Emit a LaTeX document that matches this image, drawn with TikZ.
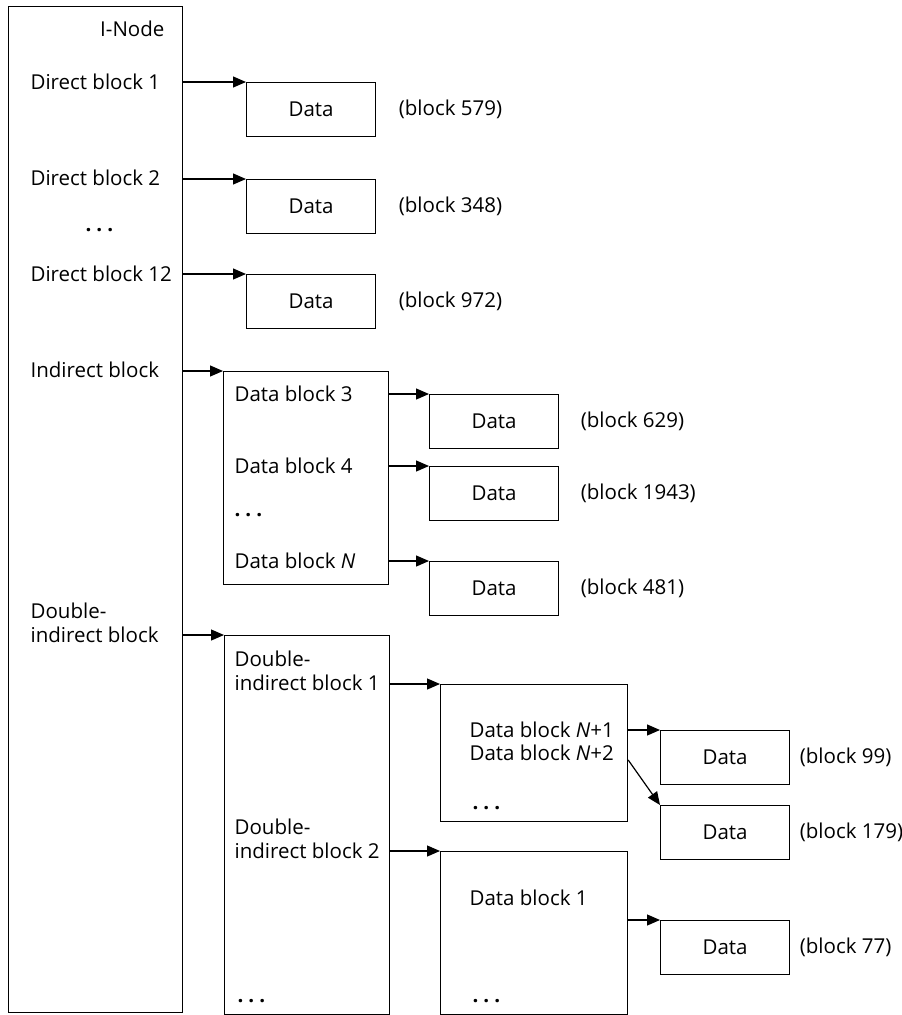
\documentclass[tikz,border=0pt]{standalone}
\usepackage{fontspec}
\setmainfont{Open Sans}
\usetikzlibrary{arrows.meta,positioning}

\newcommand\threedots{\textbf{.\hspace{5pt}.\hspace{5pt}.}}

\begin{document}
\begin{tikzpicture}[x=1pt,y=-1pt,
  font=\fontsize{20.5}{24}\selectfont,
  line width=1.2pt,
  >={Triangle[length=13pt,width=11pt]},
  box/.style={draw,inner sep=0pt,anchor=north west},
  databox/.style={draw,inner sep=0pt,anchor=north west,minimum width=129pt,minimum height=54pt},
  txt/.style={anchor=base west,inner sep=0pt,align=left},
  lbl/.style={inner sep=0pt}]
  \useasboundingbox (0,0) rectangle (902,1015);

  % i-node
  \node[box,minimum width=174pt,minimum height=1006pt] (inode) at (8,6) {};
  \node[txt,anchor=base east] (title) at (165,36) {I-Node};
  \node[txt] (d1) at (30,89) {Direct block 1};
  \node[txt] (d2) at (30,185) {Direct block 2};
  \node[txt] (dots1) at (85,231) {\threedots};
  \node[txt] (d12) at (30,281) {Direct block 12};
  \node[txt] (ind) at (30,377) {Indirect block};
  \node[txt] (dbl) at (30,642) {Double-\\indirect block};

  % direct blocks
  \node[databox] (data1) at (246,82) {Data};
  \node[databox] (data2) at (246,179) {Data};
  \node[databox] (data12) at (246,274) {Data};
  \node[lbl,right=22pt of data1] (b1) {(block 579)};
  \node[lbl,right=22pt of data2] (b2) {(block 348)};
  \node[lbl,right=22pt of data12] (b12) {(block 972)};
  \draw[->] (inode.east |- data1.north west) -- (data1.north west);
  \draw[->] (inode.east |- data2.north west) -- (data2.north west);
  \draw[->] (inode.east |- data12.north west) -- (data12.north west);

  % indirect block
  \node[box,minimum width=165pt,minimum height=213pt] (indbox) at (223,371) {};
  \node[txt] (i3) at (234,401) {Data block 3};
  \node[txt] (i4) at (234,473) {Data block 4};
  \node[txt] (dots2) at (234,516) {\threedots};
  \node[txt] (iN) at (234,568) {Data block \textit{N}};
  \node[databox] (data3) at (429,394) {Data};
  \node[databox] (data4) at (429,466) {Data};
  \node[databox] (dataN) at (429,561) {Data};
  \node[lbl,right=21pt of data3] (b3) {(block 629)};
  \node[lbl,right=21pt of data4] (b4) {(block 1943)};
  \node[lbl,right=21pt of dataN] (bN) {(block 481)};
  \draw[->] (inode.east |- indbox.north west) -- (indbox.north west);
  \draw[->] (indbox.east |- data3.north west) -- (data3.north west);
  \draw[->] (indbox.east |- data4.north west) -- (data4.north west);
  \draw[->] (indbox.east |- dataN.north west) -- (dataN.north west);

  % double-indirect block
  \node[box,minimum width=165pt,minimum height=379pt] (dibox) at (224,635) {};
  \node[txt] (di1) at (234,690) {Double-\\indirect block 1};
  \node[txt] (di2) at (234,858) {Double-\\indirect block 2};
  \node[txt] (dots3) at (237,1002) {\threedots};
  \node[box,minimum width=187pt,minimum height=137pt] (dib1) at (440,684) {};
  \node[box,minimum width=187pt,minimum height=163pt] (dib2) at (440,851) {};
  \node[txt] (n1) at (469,737) {Data block \textit{N}+1};
  \node[txt] (n2) at (469,760) {Data block \textit{N}+2};
  \node[txt] (dots4) at (472,809) {\threedots};
  \node[txt] (m1) at (469,905) {Data block 1};
  \node[txt] (dots5) at (472,1002) {\threedots};
  \node[databox] (data99) at (660,730) {Data};
  \node[databox] (data179) at (660,805) {Data};
  \node[databox] (data77) at (660,920) {Data};
  \node[lbl,right=9pt of data99] (b99) {(block 99)};
  \node[lbl,right=9pt of data179] (b179) {(block 179)};
  \node[lbl,right=9pt of data77] (b77) {(block 77)};
  \draw[->] (inode.east |- dibox.north west) -- (dibox.north west);
  \draw[->] (dibox.east |- dib1.north west) -- (dib1.north west);
  \draw[->] (dibox.east |- dib2.north west) -- (dib2.north west);
  \draw[->] (dib1.east |- data99.north west) -- (data99.north west);
  \draw[->] (dib1.east |- n2.base) -- (data179.north west);
  \draw[->] (dib2.east |- data77.north west) -- (data77.north west);
\end{tikzpicture}
\end{document}
